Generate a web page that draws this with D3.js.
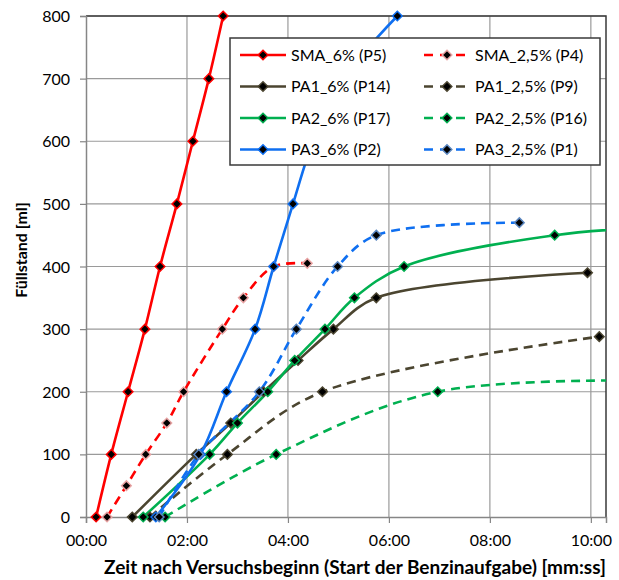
<!DOCTYPE html>
<html>
<head>
<meta charset="utf-8">
<script src="https://cdn.jsdelivr.net/npm/d3@7"></script>
<style>
  body { margin: 0; background: #fff; }
  svg { display: block; font-family: Lato, "Liberation Sans", sans-serif; }
</style>
</head>
<body>
<div id="chart"></div>
<script>
// data: [time in s, Füllstand in ml]
var smaP5  = [[12,0],[30,100],[50,200],[70,300],[88,400],[108,500],[127,600],[146,700],[163,800]];
var smaP4  = [[25,0],[48,50],[71,100],[96,150],[116,200],[162,300],[187,350],[223,400],[263,405]];
var pa1P14 = [[55,0],[131,100],[172,150],[211,200],[252,250],[294,300],[345,350],[596,390]];
var pa1P9  = [[76,0],[168,100],[281,200],[610,288]];
var pa2P17 = [[68,0],[147,100],[180,150],[216,200],[248,250],[284,300],[319,350],[378,400],[557,450],[690,463]];
var pa2P16 = [[94,0],[226,100],[418,200],[720,217]];
var pa3P2  = [[83,0],[136,100],[167,200],[201,300],[223,400],[246,500],[270,600],[306,700],[370,800]];
var pa3P1  = [[87,0],[134,100],[206,200],[250,300],[299,400],[345,450],[515,470]];

var seriesNames = ["SMA_6% (P5)", "SMA_2,5% (P4)", "PA1_6% (P14)", "PA1_2,5% (P9)",
                   "PA2_6% (P17)", "PA2_2,5% (P16)", "PA3_6% (P2)", "PA3_2,5% (P1)"];
var xTicks = [0, 120, 240, 360, 480, 600];
var yTicks = [0, 100, 200, 300, 400, 500, 600, 700, 800];

var series = [
  {name: seriesNames[0], data: smaP5,  color: "#ff0000", edge: "#ff0000", dash: null},
  {name: seriesNames[1], data: smaP4,  color: "#ff0000", edge: "#e9a3a3", dash: "9,6"},
  {name: seriesNames[2], data: pa1P14, color: "#4b4530", edge: "#4b4530", dash: null},
  {name: seriesNames[3], data: pa1P9,  color: "#4b4530", edge: "#4b4530", dash: "9,6"},
  {name: seriesNames[4], data: pa2P17, color: "#00b050", edge: "#00b050", dash: null},
  {name: seriesNames[5], data: pa2P16, color: "#00b050", edge: "#00b050", dash: "9,6"},
  {name: seriesNames[6], data: pa3P2,  color: "#0f6ff0", edge: "#0f6ff0", dash: null},
  {name: seriesNames[7], data: pa3P1,  color: "#0f6ff0", edge: "#5a86c0", dash: "9,6"}
];

var W = 619, H = 580;
var plot = {left: 86, top: 16, right: 606, bottom: 517};

var svg = d3.select("#chart").append("svg")
    .attr("width", W)
    .attr("height", H);

//////// SCALES ////////
var xScale = d3.scaleLinear().domain([0, 618]).range([plot.left, plot.right]);
var yScale = d3.scaleLinear().domain([0, 800]).range([plot.bottom, plot.top]);

function mmss(s) {
  var m = Math.floor(s / 60), r = s % 60;
  return (m < 10 ? "0" : "") + m + ":" + (r < 10 ? "0" : "") + r;
}

svg.append("defs").append("clipPath").attr("id", "clip")
  .append("rect")
    .attr("x", plot.left).attr("y", plot.top - 6)
    .attr("width", plot.right - plot.left).attr("height", plot.bottom - plot.top + 12);

//////// GRID ////////
svg.append("g").selectAll("line")
  .data(yTicks.slice(1))
  .enter().append("line")
    .attr("x1", plot.left).attr("x2", plot.right)
    .attr("y1", function(d) { return yScale(d); })
    .attr("y2", function(d) { return yScale(d); })
    .attr("stroke", "#9a9a9a").attr("stroke-width", 1.2);

svg.append("g").selectAll("line")
  .data(xTicks.slice(1))
  .enter().append("line")
    .attr("x1", function(d) { return xScale(d); })
    .attr("x2", function(d) { return xScale(d); })
    .attr("y1", plot.top).attr("y2", plot.bottom)
    .attr("stroke", "#9a9a9a").attr("stroke-width", 1.2);

// plot border (top / right)
svg.append("path")
  .attr("d", "M" + plot.left + "," + plot.top + "H" + plot.right + "V" + plot.bottom)
  .attr("fill", "none").attr("stroke", "#3a3a3a").attr("stroke-width", 1.5);

//////// AXES ////////
var yAxis = svg.append("g")
  .attr("transform", "translate(" + plot.left + ",0)")
  .call(d3.axisLeft(yScale).tickValues(yTicks).tickSize(6).tickPadding(10));

var xAxis = svg.append("g")
  .attr("transform", "translate(0," + plot.bottom + ")")
  .call(d3.axisBottom(xScale).tickValues(xTicks).tickFormat(mmss).tickSize(6).tickPadding(12));

[xAxis, yAxis].forEach(function(ax) {
  ax.select(".domain").attr("stroke", "#868686").attr("stroke-width", 1.5);
  ax.selectAll(".tick line").attr("stroke", "#868686").attr("stroke-width", 1.2);
  ax.selectAll("text").attr("fill", "#000").attr("font-size", 16)
    .attr("font-family", "Lato, 'Liberation Sans', sans-serif");
});
yAxis.selectAll("text").attr("dy", "0.35em");

svg.append("text")
  .attr("transform", "translate(21,250) rotate(-90)")
  .attr("text-anchor", "middle")
  .attr("dy", "0.35em")
  .attr("font-size", 16).attr("font-weight", "bold")
  .text("Füllstand [ml]");

svg.append("text")
  .attr("x", 355).attr("y", 567)
  .attr("text-anchor", "middle")
  .attr("dy", "0.35em")
  .attr("font-size", 19).attr("font-weight", "bold")
  .text("Zeit nach Versuchsbeginn (Start der Benzinaufgabe) [mm:ss]");

//////// LINES ////////
var line = d3.line()
  .x(function(d) { return xScale(d[0]); })
  .y(function(d) { return yScale(d[1]); })
  .curve(d3.curveCatmullRom.alpha(0.5));

var diamond = "M0,-4.8L4.8,0L0,4.8L-4.8,0Z";

var gLines = svg.append("g").attr("clip-path", "url(#clip)");

gLines.selectAll("path.series")
  .data(series)
  .enter().append("path")
    .attr("class", "series")
    .attr("d", function(d) { return line(d.data); })
    .attr("fill", "none")
    .attr("stroke", function(d) { return d.color; })
    .attr("stroke-width", 2.6)
    .attr("stroke-dasharray", function(d) { return d.dash; });

var gMarks = svg.append("g");
series.forEach(function(s) {
  gMarks.selectAll(null)
    .data(s.data.filter(function(d) { return d[0] <= 618; }))
    .enter().append("path")
      .attr("d", diamond)
      .attr("transform", function(d) { return "translate(" + xScale(d[0]) + "," + yScale(d[1]) + ")"; })
      .attr("fill", "#000")
      .attr("stroke", s.edge)
      .attr("stroke-width", 1.5);
});

//////// LEGEND ////////
var legend = svg.append("g");
legend.append("rect")
  .attr("x", 230).attr("y", 38)
  .attr("width", 370).attr("height", 127)
  .attr("fill", "#fff")
  .attr("stroke", "#3a3a3a").attr("stroke-width", 1.5);

var lgd = legend.selectAll("g.lgd")
  .data(series)
  .enter().append("g")
    .attr("class", "lgd")
    .attr("transform", function(d, i) {
      return "translate(" + (i % 2 === 0 ? 240 : 424) + "," + (55 + Math.floor(i / 2) * 31.5) + ")";
    });

lgd.append("line")
  .attr("x1", 0).attr("x2", 46)
  .attr("stroke", function(d) { return d.color; })
  .attr("stroke-width", 2.6)
  .attr("stroke-dasharray", function(d) { return d.dash ? "9,7" : null; });

lgd.append("path")
  .attr("d", diamond)
  .attr("transform", "translate(23,0)")
  .attr("fill", "#000")
  .attr("stroke", function(d) { return d.edge; })
  .attr("stroke-width", 1.5);

lgd.append("text")
  .attr("x", 51)
  .attr("dy", "0.35em")
  .attr("font-size", 16)
  .text(function(d) { return d.name; });
</script>
</body>
</html>
